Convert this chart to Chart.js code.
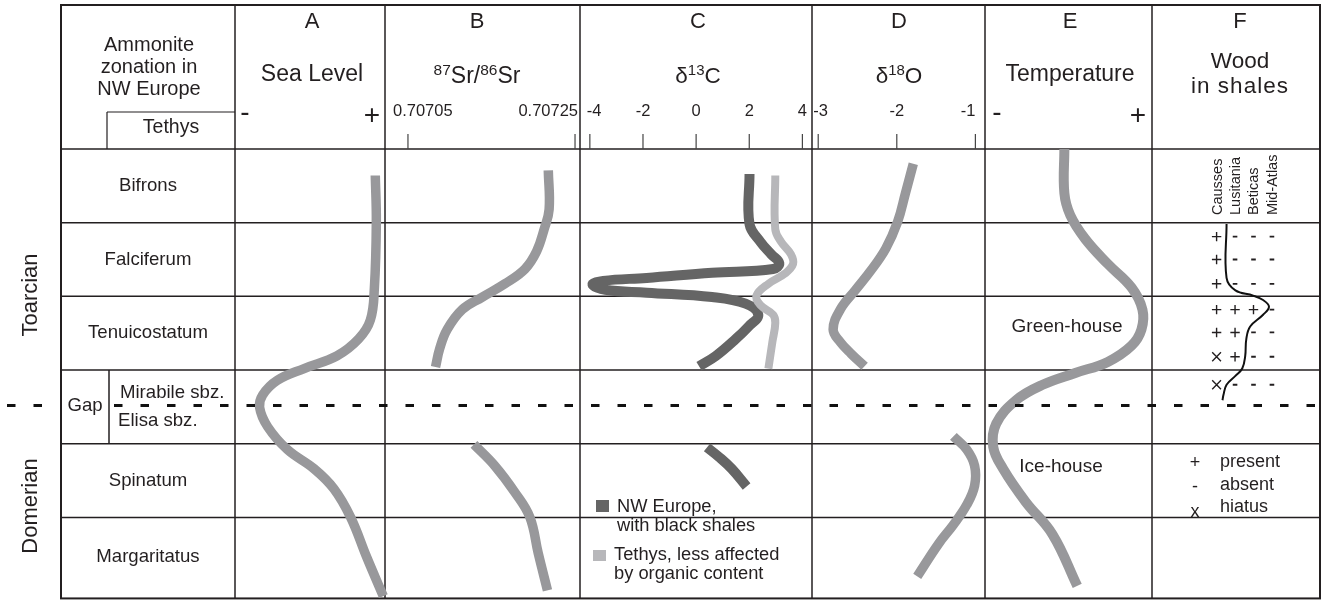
<!DOCTYPE html>
<html><head><meta charset="utf-8">
<script src="https://cdn.jsdelivr.net/npm/chart.js@4.4.1/dist/chart.umd.min.js"></script>
<style>html,body{margin:0;padding:0;background:#fff;}#wrap{width:1327px;height:607px;}</style>
</head><body><div id="wrap"><canvas id="c" width="1327" height="607"></canvas></div>
<script>
// ---------------- DATA ----------------
const zoneNames = ['Bifrons', 'Falciferum', 'Tenuicostatum', 'Spinatum', 'Margaritatus'];
const subZoneNames = ['Mirabile sbz.', 'Elisa sbz.'];
const stageNames = ['Toarcian', 'Domerian'];
const zoneBounds = [0, 1, 2, 3, 4, 5, 6.1];       // zone boundaries (stratigraphic units)
const stageBoundary = 3.48;                         // Toarcian / Domerian

const srTicks = [0.70705, 0.70725];
const c13Ticks = [-4, -2, 0, 2, 4];
const o18Ticks = [-3, -2, -1];

// A  Sea level (relative, 0 = low, 10 = high)
const seaLevelPos = [0.36, 0.99, 1.88, 2.32, 2.58, 2.81, 2.98, 3.14, 3.34, 3.51, 3.77, 4.08, 4.34, 4.61, 5.00, 5.53, 6.07];
const seaLevel    = [9.13, 9.2, 9.07, 8.8, 8.0, 6.53, 4.33, 2.53, 1.53, 1.33, 1.87, 3.2, 5.0, 6.33, 7.47, 8.53, 9.67];

// B  87Sr/86Sr
const srUpperPos = [0.29, 0.82, 1.09, 1.39, 1.63, 1.83, 2.01, 2.18, 2.45, 2.71, 2.96];
const srUpper    = [0.707218, 0.707219, 0.707213, 0.707204, 0.707190, 0.707166, 0.707139, 0.707115, 0.707097, 0.707088, 0.707083];
const srLowerPos = [4.01, 4.30, 4.66, 5.00, 5.49, 5.99];
const srLower    = [0.707129, 0.707154, 0.707178, 0.707196, 0.707206, 0.707217];

// C  d13C
const c13NWUpperPos = [0.34, 1.02, 1.26, 1.43, 1.55, 1.63, 1.68, 1.75, 1.79, 1.84, 1.91, 1.95, 2.01, 2.10, 2.25, 2.41, 2.58, 2.81, 2.95];
const c13NWUpper    = [2.01, 2.01, 2.42, 2.83, 3.13, 2.90, 0.60, -1.86, -3.5, -3.9, -3.42, -1.86, 0.60, 1.86, 2.34, 1.97, 1.49, 0.74, 0.11];
const c13NWLowerPos = [4.05, 4.18, 4.34, 4.58];
const c13NWLower    = [0.41, 0.86, 1.34, 1.90];
const c13TethysPos  = [0.36, 1.09, 1.26, 1.43, 1.56, 1.69, 1.83, 1.99, 2.12, 2.25, 2.36, 2.62, 2.98];
const c13Tethys     = [2.98, 2.98, 3.2, 3.57, 3.65, 3.35, 2.72, 2.27, 2.42, 2.9, 2.98, 2.87, 2.72];

// D  d18O
const o18UpperPos = [0.20, 0.60, 0.99, 1.35, 1.65, 1.92, 2.18, 2.45, 2.62, 2.78, 2.95];
const o18Upper    = [-1.79, -1.89, -1.99, -2.14, -2.33, -2.53, -2.72, -2.81, -2.72, -2.58, -2.41];
const o18LowerPos = [3.90, 4.08, 4.30, 4.57, 4.83, 5.10, 5.36, 5.80];
const o18Lower    = [-1.28, -1.11, -1.01, -1.01, -1.11, -1.28, -1.47, -1.74];

// E  Temperature (relative, 0 = cold, 10 = warm)
const tempPos = [0.0, 0.60, 0.90, 1.22, 1.56, 1.88, 2.18, 2.45, 2.67, 2.89, 3.04, 3.20, 3.41, 3.73, 4.04, 4.34, 4.79, 5.23, 5.93];
const temp    = [5.03, 5.03, 5.39, 6.29, 7.66, 9.1, 9.76, 9.7, 9.1, 7.66, 5.69, 3.71, 2.1, 0.9, 0.72, 1.32, 2.69, 4.31, 5.81];

// F  Wood in shales
const woodSites = ['Causses', 'Lusitania', 'Beticas', 'Mid-Atlas'];
const woodRowPos = [1.19, 1.50, 1.83, 2.18, 2.49, 2.82, 3.20];
const woodCausses   = ['+', '+', '+', '+', '+', 'x', 'x'];
const woodLusitania = ['-', '-', '-', '+', '+', '+', '-'];
const woodBeticas   = ['-', '-', '-', '+', '-', '-', '-'];
const woodMidAtlas  = ['-', '-', '-', '-', '-', '-', '-'];
const woodLimitPos = [1.02, 1.75, 1.92, 1.99, 2.05, 2.14, 2.25, 2.41, 2.58, 2.81, 2.98, 3.08, 3.20, 3.34, 3.41];
const woodLimit    = [0.54, 0.54, 1.02, 1.98, 2.52, 2.84, 2.52, 1.82, 1.61, 1.55, 1.39, 1.02, 0.54, 0.37, 0.32];

// ---------------- LAYOUT ----------------
const W = 1327, H = 607;
const FONT = '"Liberation Sans", Arial, Helvetica, sans-serif';
const INK = '#231f20';
const cols = {left: 61, A: 235, B: 385, C: 580, D: 812, E: 985, F: 1152, right: 1320};
const HEAD_TOP = 5;
function cal(v0, p0, v1, p1, size) {
  const k = (v1 - v0) / (p1 - p0);
  return {min: v0 - p0 * k, max: v0 + (size - p0) * k};
}
const GREY = '#98989b', DARK = '#656565', LIGHT = '#b7b7ba';

function pts(xs, ys) { return xs.map((v, i) => ({x: v, y: ys[i]})); }
function curve(label, xs, ys, axis, color, width) {
  return {label, data: pts(xs, ys), xAxisID: axis, yAxisID: 'y', showLine: true,
    borderColor: color, backgroundColor: color, borderWidth: width, pointRadius: 0,
    tension: 0.4, borderCapStyle: 'butt', borderJoinStyle: 'round', fill: false};
}
// wood symbols
const woodCols = [woodCausses, woodLusitania, woodBeticas, woodMidAtlas];
const woodPts = [], woodStyle = [], woodRad = [], woodBW = [];
woodCols.forEach((col, si) => col.forEach((s, ri) => {
  woodPts.push({x: si, y: woodRowPos[ri]});
  woodStyle.push(s === '+' ? 'cross' : s === 'x' ? 'crossRot' : 'line');
  woodRad.push(s === '+' ? 4.7 : s === 'x' ? 6.2 : 2.3);
  woodBW.push(s === '-' ? 1.8 : 1.4);
}));

const datasets = [
  curve('Sea level', seaLevel, seaLevelPos, 'xA', GREY, 9.5),
  curve('Sr upper', srUpper, srUpperPos, 'xB', GREY, 9.5),
  curve('Sr lower', srLower, srLowerPos, 'xB', GREY, 9.5),
  curve('Tethys', c13Tethys, c13TethysPos, 'xC', LIGHT, 8),
  curve('NW Europe', c13NWUpper, c13NWUpperPos, 'xC', DARK, 10),
  curve('NW Europe lower', c13NWLower, c13NWLowerPos, 'xC', DARK, 10),
  curve('d18O upper', o18Upper, o18UpperPos, 'xD', GREY, 9.5),
  curve('d18O lower', o18Lower, o18LowerPos, 'xD', GREY, 9.5),
  curve('Temperature', temp, tempPos, 'xE', GREY, 10),
  curve('Wood limit', woodLimit, woodLimitPos, 'xF', '#111', 2),
  {label: 'Wood', data: woodPts, xAxisID: 'xF', yAxisID: 'y', showLine: false,
   pointStyle: woodStyle, pointRadius: woodRad, pointBorderWidth: woodBW,
   borderColor: INK, backgroundColor: INK}
];

function line(ctx, x1, y1, x2, y2) { ctx.beginPath(); ctx.moveTo(x1, y1); ctx.lineTo(x2, y2); ctx.stroke(); }
function txt(ctx, s, x, y, size, align, base) {
  ctx.font = size + 'px ' + FONT; ctx.textAlign = align || 'center'; ctx.textBaseline = base || 'middle';
  ctx.fillText(s, x, y);
}
function rich(ctx, parts, cx, y, size, supSize) {
  let w = 0;
  parts.forEach(p => { ctx.font = (p[1] ? supSize : size) + 'px ' + FONT; w += ctx.measureText(p[0]).width; });
  let x = cx - w / 2;
  ctx.textAlign = 'left'; ctx.textBaseline = 'alphabetic';
  parts.forEach(p => {
    ctx.font = (p[1] ? supSize : size) + 'px ' + FONT;
    ctx.fillText(p[0], x, p[1] ? y - size * 0.34 : y);
    x += ctx.measureText(p[0]).width;
  });
}
function rot(ctx, s, x, y, size, align) {
  ctx.save(); ctx.translate(x, y); ctx.rotate(-Math.PI / 2);
  txt(ctx, s, 0, 0, size, align || 'center', 'middle'); ctx.restore();
}

const tablePlugin = {
  id: 'table',
  beforeDatasetsDraw(chart) {
    const ctx = chart.ctx, y = chart.scales.y;
    const bot = y.getPixelForValue(zoneBounds[zoneBounds.length - 1]);
    ctx.save();
    ctx.strokeStyle = INK;
    ctx.lineWidth = 1.5;
    [cols.A, cols.B, cols.C, cols.D, cols.E, cols.F].forEach(x => line(ctx, x, HEAD_TOP, x, bot));
    zoneBounds.slice(0, -1).forEach(v => { const py = y.getPixelForValue(v); line(ctx, cols.left, py, cols.right, py); });
    line(ctx, 109, y.getPixelForValue(3), 109, y.getPixelForValue(4));
    ctx.lineWidth = 2;
    ctx.strokeRect(cols.left, HEAD_TOP, cols.right - cols.left, bot - HEAD_TOP);
    // Tethys sub-box
    ctx.lineWidth = 1.2;
    line(ctx, 107, 112, cols.A, 112);
    line(ctx, 107, 112, 107, y.getPixelForValue(0));
    // ticks
    const y0 = y.getPixelForValue(0);
    ctx.strokeStyle = '#444'; ctx.lineWidth = 1.2;
    [['xB', srTicks], ['xC', c13Ticks], ['xD', o18Ticks]].forEach(([id, ticks]) => {
      const s = chart.scales[id];
      ticks.forEach(t => { const px = s.getPixelForValue(t); line(ctx, px, y0 - 15, px, y0); });
    });
    ctx.restore();
  },
  afterDatasetsDraw(chart) {
    const ctx = chart.ctx, y = chart.scales.y;
    ctx.save();
    ctx.fillStyle = INK;
    // dashed stage boundary
    const yd = y.getPixelForValue(stageBoundary);
    ctx.strokeStyle = '#111'; ctx.lineWidth = 3; ctx.setLineDash([8.5, 18]);
    line(ctx, 7, yd, 58, yd);
    line(ctx, 114, yd, cols.right, yd);
    ctx.setLineDash([]);
    // tick labels
    const sB = chart.scales.xB, sC = chart.scales.xC, sD = chart.scales.xD;
    const tl = 111, ts = 16.5;
    txt(ctx, '0.70705', sB.getPixelForValue(srTicks[0]) - 15, tl, ts, 'left');
    txt(ctx, '0.70725', sB.getPixelForValue(srTicks[1]) + 3, tl, ts, 'right');
    c13Ticks.forEach((t, i) => {
      const px = sC.getPixelForValue(t);
      if (i === 0) txt(ctx, String(t), px - 3, tl, ts, 'left'); else txt(ctx, String(t), px, tl, ts, 'center');
    });
    o18Ticks.forEach((t, i) => {
      const px = sD.getPixelForValue(t);
      if (i === 0) txt(ctx, String(t), px - 5, tl, ts, 'left');
      else if (i === o18Ticks.length - 1) txt(ctx, String(t), px, tl, ts, 'right');
      else txt(ctx, String(t), px, tl, ts, 'center');
    });
    // column letters and titles
    [['A', 312], ['B', 477], ['C', 698], ['D', 899], ['E', 1070], ['F', 1240]].forEach(([s, x]) => txt(ctx, s, x, 22, 22));
    txt(ctx, 'Sea Level', 312, 75, 23);
    rich(ctx, [['87', 1], ['Sr/', 0], ['86', 1], ['Sr', 0]], 477, 83, 23, 15.5);
    rich(ctx, [['\u03B4', 0], ['13', 1], ['C', 0]], 698, 83, 22.5, 15);
    rich(ctx, [['\u03B4', 0], ['18', 1], ['O', 0]], 899, 83, 22.5, 15);
    txt(ctx, 'Temperature', 1070, 75, 23);
    txt(ctx, 'Wood', 1240, 62, 22.5);
    ctx.letterSpacing = '1px';
    txt(ctx, 'in shales', 1240, 87, 22.5);
    ctx.letterSpacing = '0px';
    txt(ctx, '-', 245, 113, 28); txt(ctx, '+', 372, 116, 28);
    txt(ctx, '-', 997, 113, 28); txt(ctx, '+', 1138, 116, 28);
    txt(ctx, 'Ammonite', 149, 45, 20);
    txt(ctx, 'zonation in', 149, 67, 20);
    txt(ctx, 'NW Europe', 149, 89, 20);
    txt(ctx, 'Tethys', 171, 128, 19.5);
    // zone names
    const mid = i => (y.getPixelForValue(zoneBounds[i]) + y.getPixelForValue(zoneBounds[i + 1])) / 2;
    const zs = 18.6;
    txt(ctx, zoneNames[0], 148, mid(0), zs);
    txt(ctx, zoneNames[1], 148, mid(1), zs);
    txt(ctx, zoneNames[2], 148, mid(2), zs);
    txt(ctx, zoneNames[3], 148, mid(4), zs);
    txt(ctx, zoneNames[4], 148, mid(5) - 1, zs);
    txt(ctx, subZoneNames[0], 120, yd - 13, zs, 'left');
    txt(ctx, subZoneNames[1], 118, yd + 15, zs, 'left');
    txt(ctx, 'Gap', 85, yd, zs);
    rot(ctx, stageNames[0], 31, 295, 22);
    rot(ctx, stageNames[1], 31, 506, 22);
    // temperature labels
    txt(ctx, 'Green-house', 1067, 327, 19);
    txt(ctx, 'Ice-house', 1061, 467, 19);
    // C legend
    ctx.fillStyle = DARK; ctx.fillRect(596, 500, 13, 12);
    ctx.fillStyle = LIGHT; ctx.fillRect(593, 550, 13, 11);
    ctx.fillStyle = INK;
    txt(ctx, 'NW Europe,', 617, 507, 18.3, 'left');
    txt(ctx, 'with black shales', 617, 526, 18.3, 'left');
    txt(ctx, 'Tethys, less affected', 614, 555, 18.3, 'left');
    txt(ctx, 'by organic content', 614, 574, 18.3, 'left');
    // F site labels
    const sF = chart.scales.xF;
    woodSites.forEach((s, i) => rot(ctx, s, sF.getPixelForValue(i) + 1, 215, 14.5, 'left'));
    // F legend
    txt(ctx, '+', 1195, 463, 18); txt(ctx, 'present', 1220, 462, 18, 'left');
    txt(ctx, '-', 1195, 487, 18); txt(ctx, 'absent', 1220, 485, 18, 'left');
    txt(ctx, 'x', 1195, 512, 18); txt(ctx, 'hiatus', 1220, 507, 18, 'left');
    ctx.restore();
  }
};

const hid = o => Object.assign({type: 'linear', display: false}, o);
new Chart(document.getElementById('c'), {
  type: 'scatter',
  data: {datasets},
  options: {
    responsive: false, animation: false, devicePixelRatio: 1, events: [],
    layout: {padding: 0},
    plugins: {legend: {display: false}, tooltip: {enabled: false}, title: {display: false}},
    scales: {
      x: hid({axis: 'x', min: 0, max: 1}),
      y: hid(Object.assign({axis: 'y', reverse: true}, cal(0, 145, 6.1, 606, H))),
      xA: hid(Object.assign({axis: 'x'}, cal(0, 235, 10, 385, W))),
      xB: hid(Object.assign({axis: 'x'}, cal(0.70705, 405, 0.70725, 574, W))),
      xC: hid(Object.assign({axis: 'x'}, cal(-4, 589, 4, 804, W))),
      xD: hid(Object.assign({axis: 'x'}, cal(-3, 820, -1, 979, W))),
      xE: hid(Object.assign({axis: 'x'}, cal(0, 985, 10, 1152, W))),
      xF: hid(Object.assign({axis: 'x'}, cal(0, 1223, 3, 1279, W)))
    }
  },
  plugins: [tablePlugin]
});
</script></body></html>
